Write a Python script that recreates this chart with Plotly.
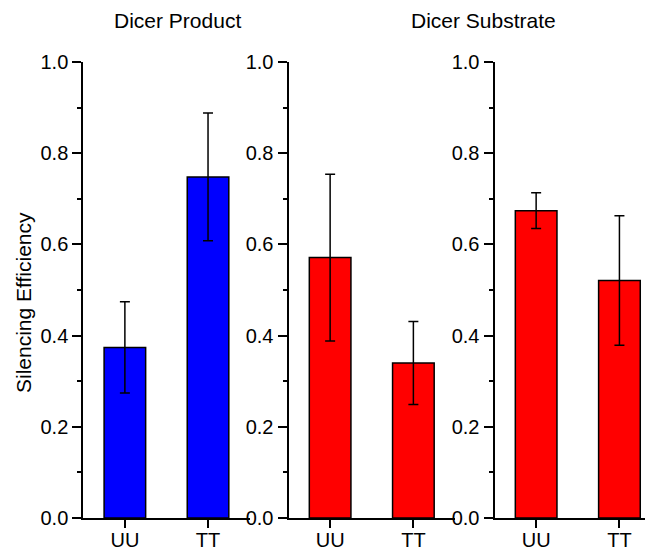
import plotly.graph_objects as go

categories = ["UU", "TT"]
product_values = [0.374, 0.748]
product_err = [0.100, 0.140]
substrate_a_values = [0.571, 0.340]
substrate_a_err = [0.183, 0.091]
substrate_b_values = [0.674, 0.521]
substrate_b_err = [0.039, 0.142]
y_ticks = [0.0, 0.2, 0.4, 0.6, 0.8, 1.0]

# page body has an 8px margin, so the figure is sized to the remaining window
OFF = 8
W, H = 653 - OFF, 550 - OFF
FONT = "Liberation Sans, Arial, sans-serif"

def px(x):
    return (x - OFF) / W

panels = [
    (product_values, product_err, "#0000FF", (px(83.3), px(249.6)), [-0.5, 1.5]),
    (substrate_a_values, substrate_a_err, "#FF0000", (px(288.5), px(455.0)), [-0.5, 1.5]),
    (substrate_b_values, substrate_b_err, "#FF0000", (px(494.5), 1.0), [-0.5, 1.403]),
]

fig = go.Figure()
layout = {}
for i, (vals, errs, color, dom, xr) in enumerate(panels, start=1):
    sfx = "" if i == 1 else str(i)
    fig.add_trace(go.Bar(
        x=list(range(len(categories))), y=vals,
        width=0.5,
        marker=dict(color=color, line=dict(color="black", width=1.5)),
        error_y=dict(type="data", array=errs, visible=True,
                     color="black", thickness=1.5, width=5),
        xaxis="x" + sfx, yaxis="y" + sfx, showlegend=False,
    ))
    layout["xaxis" + sfx] = dict(
        domain=list(dom), range=xr, anchor="y" + sfx, automargin=False,
        tickmode="array", tickvals=list(range(len(categories))), ticktext=categories,
        showline=True, linecolor="black", linewidth=2,
        ticks="outside", ticklen=8, tickwidth=2, tickcolor="black",
        ticklabelstandoff=-5,
        showgrid=False, zeroline=False, fixedrange=True,
        tickfont=dict(size=20, color="black", family=FONT),
    )
    layout["yaxis" + sfx] = dict(
        domain=[0, 1], range=[0, 1], anchor="x" + sfx, automargin=False,
        tickmode="array", tickvals=y_ticks, ticktext=[f"{v:.1f}" for v in y_ticks],
        showline=True, linecolor="black", linewidth=2,
        ticks="outside", ticklen=9, tickwidth=2, tickcolor="black",
        minor=dict(dtick=0.1, ticks="outside", ticklen=4, tickwidth=1.5, tickcolor="black"),
        showgrid=False, zeroline=False,
        tickfont=dict(size=20, color="black", family=FONT),
    )

TOP, BOT = 62 - OFF, 518 - OFF

def py(y):
    return (BOT - (y - OFF)) / (BOT - TOP)

annotations = [
    dict(text="Dicer Product", x=px(177.5), y=py(20), xref="paper", yref="paper",
         showarrow=False, xanchor="center", yanchor="middle",
         font=dict(size=21, color="black", family=FONT)),
    dict(text="Dicer Substrate", x=px(483), y=py(20), xref="paper", yref="paper",
         showarrow=False, xanchor="center", yanchor="middle",
         font=dict(size=21, color="black", family=FONT)),
    dict(text="Silencing Efficiency", x=px(23), y=py(303), xref="paper", yref="paper",
         showarrow=False, xanchor="center", yanchor="middle", textangle=-90,
         font=dict(size=21, color="black", family=FONT)),
]

fig.update_layout(
    width=W, height=H,
    margin=dict(l=0, r=0, t=TOP, b=H - BOT, pad=0, autoexpand=False),
    paper_bgcolor="white", plot_bgcolor="white",
    annotations=annotations,
    **layout,
)

fig.write_html("out.html")
